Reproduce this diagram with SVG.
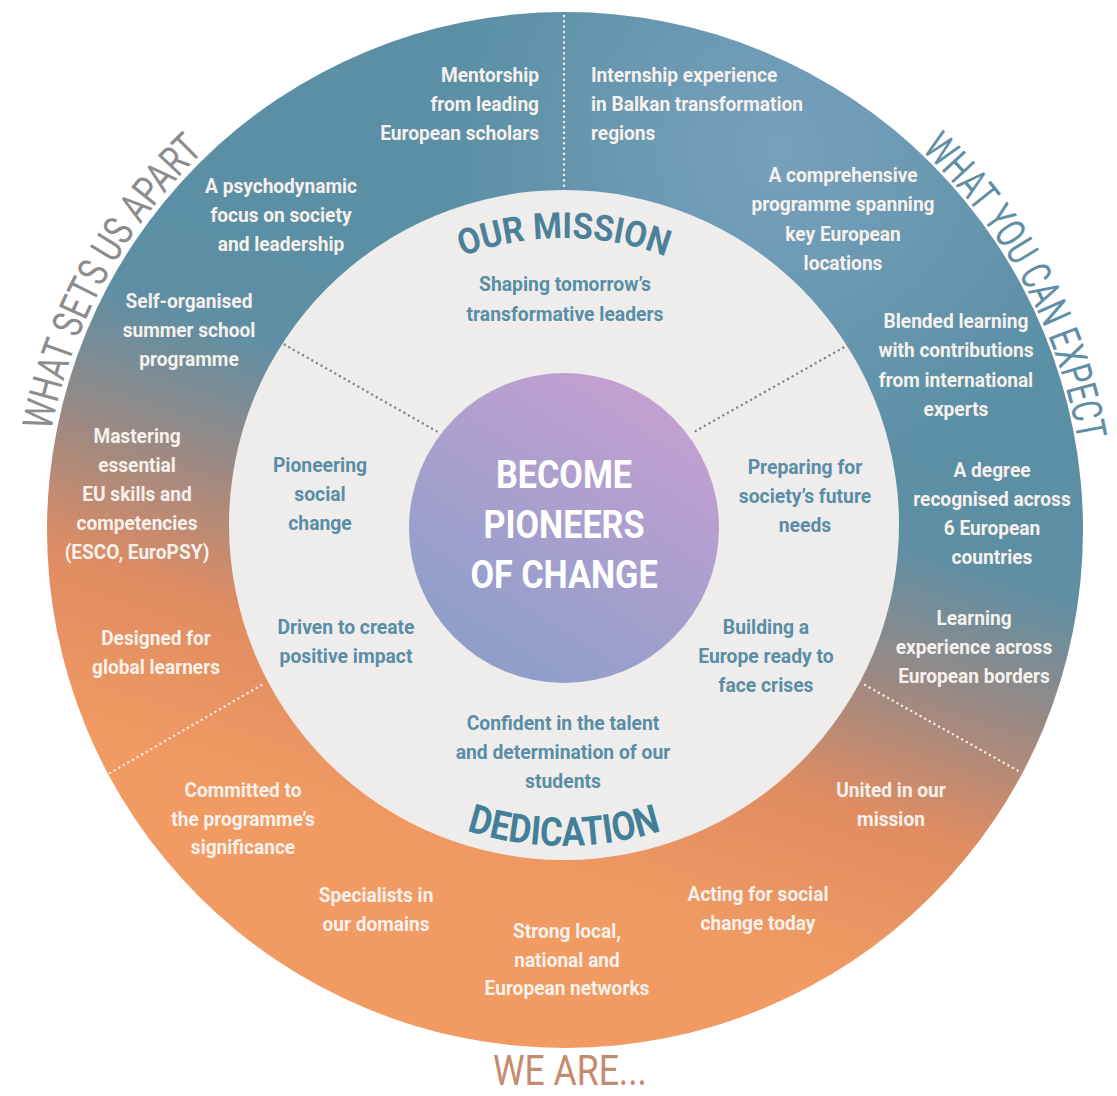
<svg xmlns="http://www.w3.org/2000/svg" width="1117" height="1096" viewBox="0 0 1117 1096">
<style>
.lbl{font-family:Roboto,'Liberation Sans',sans-serif;font-weight:700;font-size:21px;fill:#f6f1ec;text-anchor:middle}
.in{fill:#5a8ea6}
.core{font-family:Roboto,'Liberation Sans',sans-serif;font-weight:700;font-size:38px;fill:#ffffff;text-anchor:middle}
.head{font-family:Roboto,'Liberation Sans',sans-serif;font-weight:700;text-anchor:middle}
.outer{font-family:Roboto,'Liberation Sans',sans-serif;font-weight:400;font-size:42px;text-anchor:middle}
.dotw{fill:none;stroke:#f4ede7;stroke-width:2.4;stroke-linecap:round;stroke-dasharray:0.1 5.2}
.dotg{fill:none;stroke:#71889a;stroke-width:2.4;stroke-linecap:round;stroke-dasharray:0.1 5.2}
</style>
<defs>
<linearGradient id="ringGrad" gradientUnits="userSpaceOnUse" x1="640" y1="330" x2="470" y2="860">
<stop offset="0" stop-color="#5a8fa5"/>
<stop offset="0.22" stop-color="#5e8fa4"/>
<stop offset="0.46" stop-color="#9a8984"/>
<stop offset="0.7" stop-color="#e08c62"/>
<stop offset="1" stop-color="#f19a62"/>
</linearGradient>
<radialGradient id="blueTint" gradientUnits="userSpaceOnUse" cx="780" cy="150" r="340">
<stop offset="0" stop-color="#8aaccc" stop-opacity="0.6"/>
<stop offset="1" stop-color="#8aaccc" stop-opacity="0"/>
</radialGradient>
<linearGradient id="coreGrad" gradientUnits="userSpaceOnUse" x1="660" y1="380" x2="470" y2="680">
<stop offset="0" stop-color="#c6a0d2"/>
<stop offset="1" stop-color="#8a9ec9"/>
</linearGradient>
<path id="arcLeft" d="M117.6,801.4 A523,523 0 0 1 551.3,7.2"/>
<path id="arcRight" d="M580.6,9.2 A521,521 0 0 1 1008.3,802.9"/>
<path id="arcMission" d="M275,527 A289,289 0 0 1 853,527"/>
<path id="arcDedication" d="M245,527 A319,319 0 0 0 883,527"/>
</defs>

<g id="ring">
<circle cx="565" cy="530" r="518" fill="url(#ringGrad)"/>
<circle cx="565" cy="530" r="518" fill="url(#blueTint)"/>
</g>
<g id="inner-disc">
<circle cx="564" cy="525" r="335" fill="#efedec"/>
</g>
<g id="core">
<circle cx="564" cy="528" r="155" fill="url(#coreGrad)"/>
<g transform="translate(564,0) scale(0.9,1)">
<text class="core"><tspan x="0" y="488">BECOME</tspan><tspan x="0" y="538">PIONEERS</tspan><tspan x="0" y="588">OF CHANGE</tspan></text>
</g>
</g>

<g id="connectors">
<line class="dotw" x1="564" y1="16" x2="564" y2="188"/>
<line class="dotw" x1="110" y1="773" x2="265" y2="683"/>
<line class="dotw" x1="865" y1="685" x2="1022" y2="773"/>
<line class="dotg" x1="280" y1="342" x2="438" y2="432"/>
<line class="dotg" x1="848" y1="345" x2="692" y2="433"/>
</g>

<g id="outer-labels">
<text class="outer" fill="#8c8c8c"><textPath href="#arcLeft" startOffset="50%" textLength="324" lengthAdjust="spacingAndGlyphs">WHAT SETS US APART</textPath></text>
<text class="outer" fill="#5f8ea5"><textPath href="#arcRight" startOffset="50%" textLength="336" lengthAdjust="spacingAndGlyphs">WHAT YOU CAN EXPECT</textPath></text>
<text id="we-are" class="outer" font-size="36" fill="#c38b70" x="570" y="1085" textLength="154" lengthAdjust="spacingAndGlyphs">WE ARE...</text>
</g>

<g id="mission">
<text class="head" font-size="36" fill="#4c8199"><textPath href="#arcMission" startOffset="50%" textLength="208" lengthAdjust="spacingAndGlyphs">OUR MISSION</textPath></text>
<g transform="translate(565,0) scale(0.92,1)">
<text class="lbl in" font-size="27.5" fill="#5f90a8"><tspan x="0" y="291">Shaping tomorrow’s</tspan><tspan x="0" y="321">transformative leaders</tspan></text>
</g>
</g>
<g id="dedication">
<text class="head" font-size="40" fill="#427f98"><textPath href="#arcDedication" startOffset="50%" textLength="198" lengthAdjust="spacingAndGlyphs">DEDICATION</textPath></text>
</g>

<g id="n-mentorship" transform="translate(539,0) scale(0.91,1)"><text class="lbl" style="text-anchor:end"><tspan x="0" y="82">Mentorship</tspan><tspan x="0" y="111">from leading</tspan><tspan x="0" y="140">European scholars</tspan></text></g>
<g id="n-internship" transform="translate(591,0) scale(0.91,1)"><text class="lbl" style="text-anchor:start"><tspan x="0" y="82">Internship experience</tspan><tspan x="0" y="111">in Balkan transformation</tspan><tspan x="0" y="140">regions</tspan></text></g>
<g id="n-psychodynamic" transform="translate(281,0) scale(0.91,1)"><text class="lbl"><tspan x="0" y="193">A psychodynamic</tspan><tspan x="0" y="222">focus on society</tspan><tspan x="0" y="251">and leadership</tspan></text></g>
<g id="n-comprehensive" transform="translate(843,0) scale(0.91,1)"><text class="lbl"><tspan x="0" y="182">A comprehensive</tspan><tspan x="0" y="211">programme spanning</tspan><tspan x="0" y="241">key European</tspan><tspan x="0" y="270">locations</tspan></text></g>
<g id="n-summer" transform="translate(189,0) scale(0.91,1)"><text class="lbl"><tspan x="0" y="308">Self-organised</tspan><tspan x="0" y="337">summer school</tspan><tspan x="0" y="366">programme</tspan></text></g>
<g id="n-blended" transform="translate(956,0) scale(0.91,1)"><text class="lbl"><tspan x="0" y="328">Blended learning</tspan><tspan x="0" y="357">with contributions</tspan><tspan x="0" y="387">from international</tspan><tspan x="0" y="416">experts</tspan></text></g>
<g id="n-mastering" transform="translate(137,0) scale(0.91,1)"><text class="lbl"><tspan x="0" y="443">Mastering</tspan><tspan x="0" y="472">essential</tspan><tspan x="0" y="501">EU skills and</tspan><tspan x="0" y="530">competencies</tspan><tspan x="0" y="559">(ESCO, EuroPSY)</tspan></text></g>
<g id="n-degree" transform="translate(992,0) scale(0.91,1)"><text class="lbl"><tspan x="0" y="477">A degree</tspan><tspan x="0" y="506">recognised across</tspan><tspan x="0" y="535">6 European</tspan><tspan x="0" y="564">countries</tspan></text></g>
<g id="n-global" transform="translate(156,0) scale(0.91,1)"><text class="lbl"><tspan x="0" y="645">Designed for</tspan><tspan x="0" y="674">global learners</tspan></text></g>
<g id="n-borders" transform="translate(974,0) scale(0.91,1)"><text class="lbl"><tspan x="0" y="625">Learning</tspan><tspan x="0" y="654">experience across</tspan><tspan x="0" y="683">European borders</tspan></text></g>
<g id="n-committed" transform="translate(243,0) scale(0.91,1)"><text class="lbl"><tspan x="0" y="797">Committed to</tspan><tspan x="0" y="826">the programme’s</tspan><tspan x="0" y="854">significance</tspan></text></g>
<g id="n-united" transform="translate(891,0) scale(0.91,1)"><text class="lbl"><tspan x="0" y="797">United in our</tspan><tspan x="0" y="826">mission</tspan></text></g>
<g id="n-specialists" transform="translate(376,0) scale(0.91,1)"><text class="lbl"><tspan x="0" y="902">Specialists in</tspan><tspan x="0" y="931">our domains</tspan></text></g>
<g id="n-acting" transform="translate(758,0) scale(0.91,1)"><text class="lbl"><tspan x="0" y="901">Acting for social</tspan><tspan x="0" y="930">change today</tspan></text></g>
<g id="n-networks" transform="translate(567,0) scale(0.91,1)"><text class="lbl"><tspan x="0" y="938">Strong local,</tspan><tspan x="0" y="967">national and</tspan><tspan x="0" y="995">European networks</tspan></text></g>

<g id="n-pioneering" transform="translate(320,0) scale(0.92,1)"><text class="lbl in"><tspan x="0" y="472">Pioneering</tspan><tspan x="0" y="501">social</tspan><tspan x="0" y="530">change</tspan></text></g>
<g id="n-preparing" transform="translate(805,0) scale(0.92,1)"><text class="lbl in"><tspan x="0" y="474">Preparing for</tspan><tspan x="0" y="503">society’s future</tspan><tspan x="0" y="532">needs</tspan></text></g>
<g id="n-driven" transform="translate(346,0) scale(0.92,1)"><text class="lbl in"><tspan x="0" y="634">Driven to create</tspan><tspan x="0" y="663">positive impact</tspan></text></g>
<g id="n-building" transform="translate(766,0) scale(0.92,1)"><text class="lbl in"><tspan x="0" y="634">Building a</tspan><tspan x="0" y="663">Europe ready to</tspan><tspan x="0" y="692">face crises</tspan></text></g>
<g id="n-confident" transform="translate(563,0) scale(0.92,1)"><text class="lbl in"><tspan x="0" y="730">Confident in the talent</tspan><tspan x="0" y="759">and determination of our</tspan><tspan x="0" y="788">students</tspan></text></g>
</svg>
